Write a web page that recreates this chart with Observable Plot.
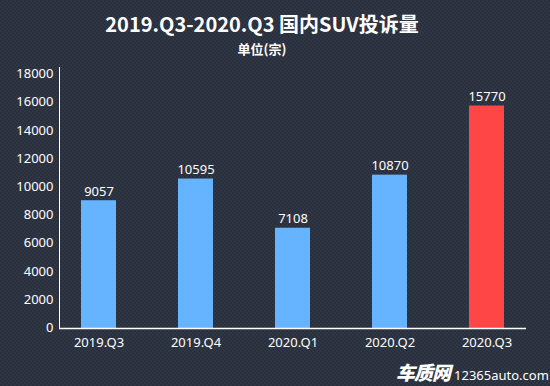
<!DOCTYPE html>
<html>
<head>
<meta charset="utf-8">
<script src="https://cdn.jsdelivr.net/npm/d3@7"></script>
<script src="https://cdn.jsdelivr.net/npm/@observablehq/plot@0.6"></script>
<style>
  html, body { margin: 0; padding: 0; }
  body {
    width: 550px; height: 386px; overflow: hidden; position: relative;
    background-color: #282f3d;
    background-image:
      linear-gradient(45deg, rgba(255,255,255,0.035) 25%, transparent 25%, transparent 75%, rgba(255,255,255,0.035) 75%),
      linear-gradient(45deg, rgba(255,255,255,0.035) 25%, transparent 25%, transparent 75%, rgba(255,255,255,0.035) 75%);
    background-size: 4px 4px;
    background-position: 0 0, 2px 2px;
    font-family: "Noto Sans", "Noto Sans CJK SC", sans-serif;
  }
  #head { height: 60px; position: relative; color: #fff; text-align: center; }
  #title { position: absolute; left: 0; right: 26px; top: 10px; font-size: 20px; font-weight: bold; line-height: 28px;
    font-family: "Noto Sans CJK SC", "Noto Sans", sans-serif; }
  #sub { position: absolute; left: 0; right: 26px; top: 40px; font-size: 13px; font-weight: bold; line-height: 18px;
    font-family: "Noto Sans CJK SC", "Noto Sans", sans-serif; }
  #chart svg { display: block; }
  #logo { position: absolute; left: 396px; top: 358px; color: #fff; white-space: nowrap; }
  #logo .cn { font-family: "Noto Sans CJK SC", sans-serif; font-weight: 900; font-size: 19px; font-style: italic; letter-spacing: -1px; }
  #logo .en { font-family: "Noto Sans", sans-serif; font-size: 13px; margin-left: 4px; }
</style>
</head>
<body>
<div id="head">
  <div id="title">2019.Q3-2020.Q3 国内SUV投诉量</div>
  <div id="sub">单位(宗)</div>
</div>
<div id="chart"></div>
<div id="logo"><span class="cn">车质网</span><span class="en">12365auto.com</span></div>
<script>
const quarters = ["2019.Q3", "2019.Q4", "2020.Q1", "2020.Q2", "2020.Q3"];
const complaints = [9057, 10595, 7108, 10870, 15770];
const barColors = ["#66b4ff", "#66b4ff", "#66b4ff", "#66b4ff", "#ff4646"];
const yTicks = [0, 2000, 4000, 6000, 8000, 10000, 12000, 14000, 16000, 18000];

const data = quarters.map((q, i) => ({q, v: complaints[i], c: barColors[i]}));

const chart = Plot.plot({
  width: 550,
  height: 326,
  marginTop: 7,
  marginBottom: 58,
  marginLeft: 59,
  marginRight: 24,
  style: {background: "transparent", color: "#ffffff", fontFamily: "'Noto Sans', sans-serif", fontSize: "13px"},
  x: {domain: quarters, paddingInner: 0.641, paddingOuter: 0.215, label: null, tickSize: 0, tickPadding: 9},
  y: {domain: [0, 18500], ticks: yTicks, label: null, tickSize: 0, tickPadding: 6, tickFormat: d => String(d), line: true},
  marks: [
    Plot.barY(data, {x: "q", y: "v", fill: "c"}),
    Plot.ruleY([0], {stroke: "#ffffff", strokeWidth: 1.5}),
    Plot.text(data, {x: "q", y: "v", text: d => String(d.v), dy: -9, fill: "#ffffff", fontSize: 13})
  ]
});
chart.querySelectorAll('[aria-label="y-axis tick label"] text').forEach(t => t.setAttribute("dy", "-0.05em"));
document.getElementById("chart").appendChild(chart);
</script>
</body>
</html>
